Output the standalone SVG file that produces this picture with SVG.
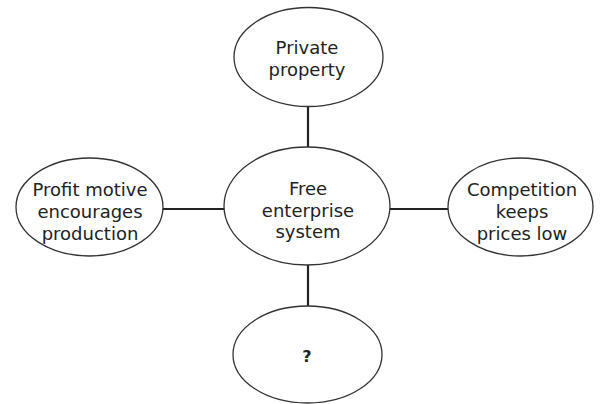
<svg xmlns="http://www.w3.org/2000/svg" width="605" height="404" viewBox="0 0 605 404">
<style>
.n{fill:#fff;stroke:#333;stroke-width:1.3}
.t{font-family:"DejaVu Sans",Verdana,sans-serif;font-size:18px;fill:#222;text-anchor:middle}
.c{stroke:#222;stroke-width:2.2;fill:none}
</style>
<rect width="605" height="404" fill="#fff"/>
<g id="connectors">
<line class="c" x1="308" y1="106" x2="308" y2="147"/>
<line class="c" x1="308" y1="265" x2="308" y2="306"/>
<line class="c" x1="163" y1="209" x2="224" y2="209"/>
<line class="c" x1="390" y1="209" x2="448" y2="209"/>
</g>
<g id="center">
<ellipse class="n" cx="307" cy="206" rx="83" ry="59"/>
<text class="t" x="308" y="195">Free</text>
<text class="t" x="308" y="217">enterprise</text>
<text class="t" x="308" y="238">system</text>
</g>
<g id="top">
<ellipse class="n" cx="308.5" cy="57" rx="74.5" ry="49.5"/>
<text class="t" x="307" y="54">Private</text>
<text class="t" x="307" y="76">property</text>
</g>
<g id="left">
<ellipse class="n" cx="89.5" cy="207" rx="73.5" ry="49"/>
<text class="t" x="90" y="196">Profit motive</text>
<text class="t" x="90" y="218">encourages</text>
<text class="t" x="90" y="240">production</text>
</g>
<g id="right">
<ellipse class="n" cx="520.5" cy="207" rx="72.5" ry="49"/>
<text class="t" x="522" y="196">Competition</text>
<text class="t" x="522" y="218">keeps</text>
<text class="t" x="522" y="240">prices low</text>
</g>
<g id="bottom">
<ellipse class="n" cx="307.5" cy="354.5" rx="74.5" ry="48.5"/>
<text class="t" x="307" y="362" style="font-weight:bold;font-size:16px">?</text>
</g>
</svg>
